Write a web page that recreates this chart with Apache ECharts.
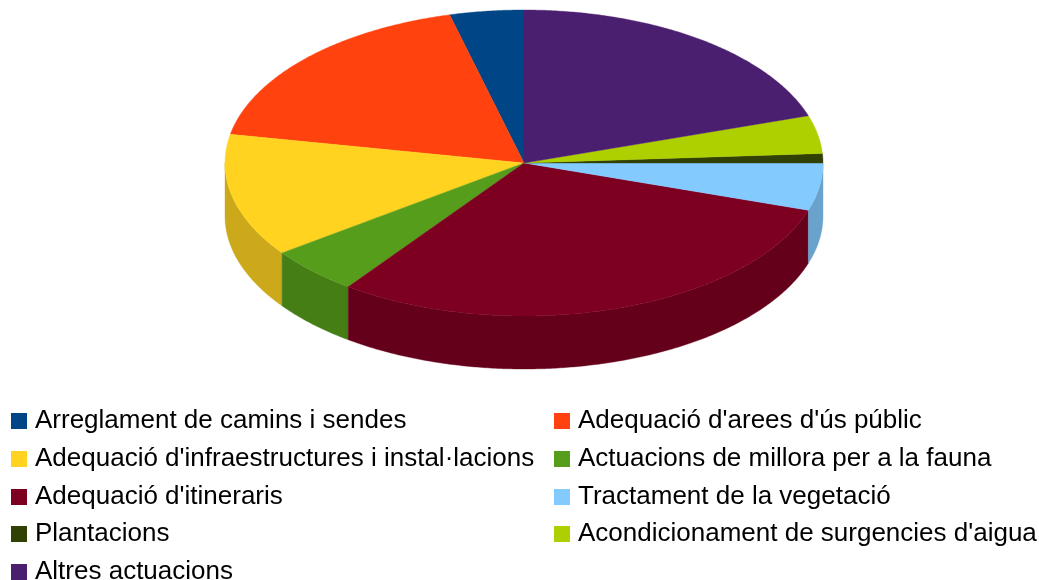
<!DOCTYPE html>
<html><head><meta charset="utf-8">
<style>html,body{margin:0;padding:0;background:#fff}#c{width:1039px;height:580px}</style>
<script src="https://cdn.jsdelivr.net/npm/echarts@6/dist/echarts.min.js"></script>
</head><body><div id="c"></div>
<script>
const categories = ["Arreglament de camins i sendes","Adequació d'arees d'ús públic","Adequació d'infraestructures i instal·lacions","Actuacions de millora per a la fauna","Adequació d'itineraris","Tractament de la vegetació","Plantacions","Acondicionament de surgencies d'aigua","Altres actuacions"];
const values = [4, 18, 13, 5, 30, 5, 1, 4, 20];
const colors = ["#004586","#ff420e","#ffd320","#579d1c","#7e0021","#83caff","#314004","#aecf00","#4b1f6f"];
const sideColors = ["#00376b","#cc350b","#cca91a","#467e16","#65001a","#69a2cc","#273303","#8ba600","#3c1959"];
const legendLeft = [11, 554];
const legendTops = [408, 446, 484, 521, 559];

const cx = 524, cy = 163, rx = 299, ry = 153, depth = 53;
const total = values.reduce((a, b) => a + b, 0);

function pt(deg, dy) { // deg counter-clockwise from the top of the pie
  const a = deg * Math.PI / 180;
  return [cx - rx * Math.sin(a), cy - ry * Math.cos(a) + (dy || 0)];
}
function arc(a0, a1, dy) {
  const n = Math.max(2, Math.ceil((a1 - a0) / 0.5)), out = [];
  for (let i = 0; i <= n; i++) out.push(pt(a0 + (a1 - a0) * i / n, dy));
  return out;
}
function renderSlice(idx) {
  return function () {
    let before = 0;
    for (let i = 0; i < idx; i++) before += values[i];
    const a0 = before / total * 360, a1 = (before + values[idx]) / total * 360;
    const children = [];
    const w0 = Math.max(a0, 90), w1 = Math.min(a1, 270);
    if (w1 > w0) {
      const wallPts = arc(w0, w1, 0).concat(arc(w0, w1, depth).reverse());
      children.push({ type: 'polygon', shape: { points: wallPts },
        style: { fill: sideColors[idx], stroke: sideColors[idx], lineWidth: 0.4 } });
    }
    const topPts = [[cx, cy]].concat(arc(a0, a1, 0));
    children.push({ type: 'polygon', shape: { points: topPts },
      style: { fill: colors[idx], stroke: colors[idx], lineWidth: 0.4 } });
    return { type: 'group', children };
  };
}
const legend = categories.map((name, i) => ({
  data: [name], orient: 'horizontal', left: legendLeft[i % 2], top: legendTops[Math.floor(i / 2)],
  padding: 0, itemWidth: 16, itemHeight: 16, icon: 'rect', selectedMode: false,
  textStyle: { fontFamily: 'Liberation Sans', fontSize: 26, color: '#000', padding: [0, 0, 0, 3] }
}));
const series = categories.map((name, i) => ({
  type: 'custom', name, coordinateSystem: 'none', silent: true,
  itemStyle: { color: colors[i] }, data: [[values[i]]], renderItem: renderSlice(i)
}));
const chart = echarts.init(document.getElementById('c'), null, { renderer: 'canvas' });
chart.setOption({ animation: false, backgroundColor: '#fff', legend, series });
</script></body></html>
